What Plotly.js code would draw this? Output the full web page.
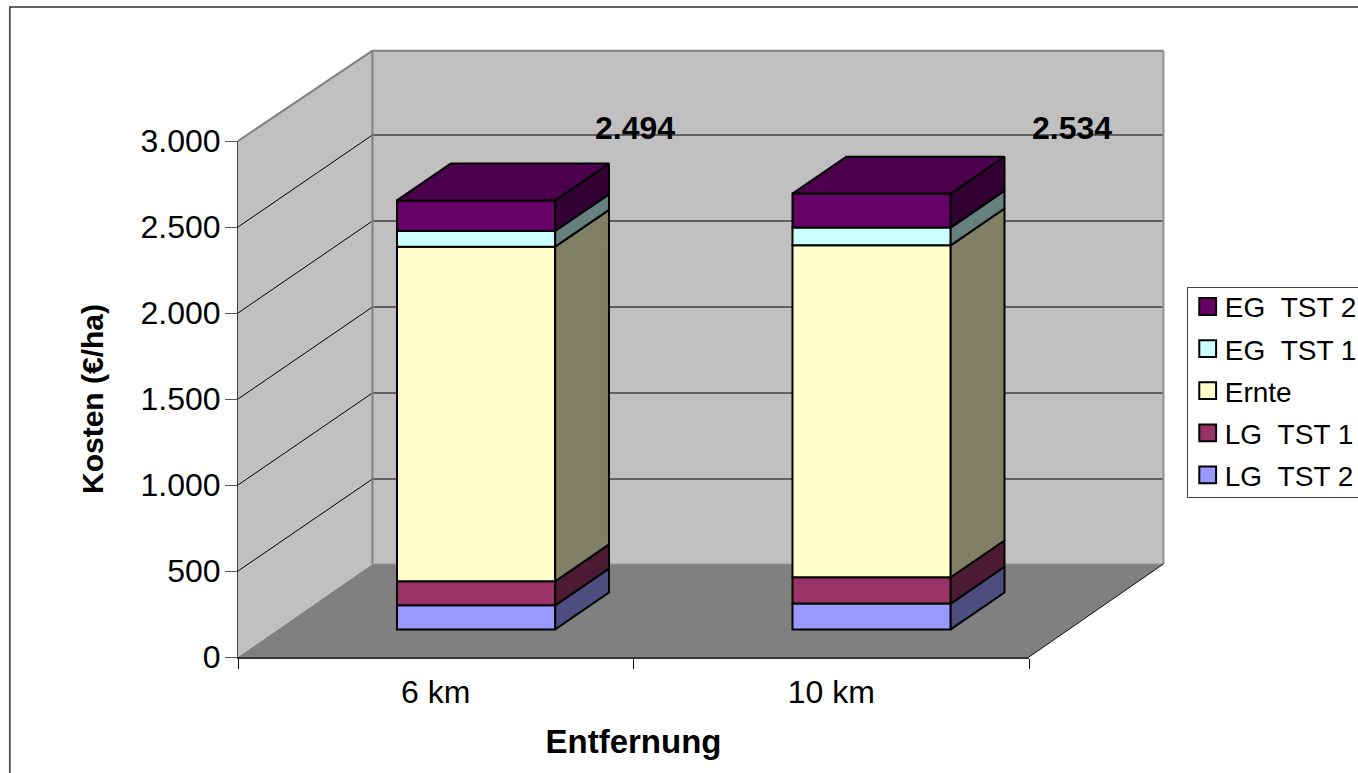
<!DOCTYPE html>
<html><head><meta charset="utf-8">
<script src="https://cdn.plot.ly/plotly-3.0.1.min.js"></script>
<style>html,body{margin:0;padding:0;background:#fff;overflow:hidden}#chart{width:1358px;height:773px}</style>
</head><body><div id="chart"></div>
<script>
// ---- data ----
const categories = ['6 km', '10 km'];
const seriesNames = ['LG\u00A0\u00A0TST 2', 'LG\u00A0\u00A0TST 1', 'Ernte', 'EG\u00A0\u00A0TST 1', 'EG\u00A0\u00A0TST 2'];
const lgTst2 = [140, 150];
const lgTst1 = [140, 153];
const ernte  = [1945, 1930];
const egTst1 = [91, 103];
const egTst2 = [178, 198];
const totals = [2494, 2534];
const yTicks = [0, 500, 1000, 1500, 2000, 2500, 3000];

// ---- styles ----
const frontColors = ['#9999FF', '#993366', '#FFFFCC', '#CCFFFF', '#660066'];
const sideColors  = ['#4D4D80', '#4D1A33', '#808066', '#668080', '#330033'];
const topColor = '#4D004D';
const FONT = 'Liberation Sans, Arial, sans-serif';

// ---- oblique projection, in axis units ----
const depthX = 0.34;      // whole floor depth, in category widths
const depthY = 535;       // whole floor depth, in value units
const floorDepthY = 541;
const barFront = 0.3, barBack = 0.7, barWidth = 0.4;
const xMax = 2, yMax = 3000, wallTop = yMax - 10;

const allSeries = [lgTst2, lgTst1, ernte, egTst1, egTst2];
const px = x => x / xMax;   // axis value -> paper fraction
const py = y => y / yMax;
const path = pts => 'M' + pts.map(p => px(p[0]) + ',' + py(p[1])).join('L') + 'Z';
const line = (a, b, color, width) => ({type: 'line', xref: 'paper', yref: 'paper', layer: 'below',
  x0: px(a[0]), y0: py(a[1]), x1: px(b[0]), y1: py(b[1]), line: {color, width}});
const poly = (pts, fill) => ({type: 'path', xref: 'paper', yref: 'paper', layer: 'below',
  path: path(pts), fillcolor: fill, line: {width: 0}});

// ---- walls, floor and gridlines ----
const shapes = [
  poly([[0, 0], [depthX, floorDepthY], [depthX, wallTop + depthY], [0, yMax]], '#C0C0C0'),
  poly([[depthX, floorDepthY], [xMax + depthX, floorDepthY], [xMax + depthX, wallTop + depthY], [depthX, wallTop + depthY]], '#C0C0C0'),
  poly([[0, 0], [xMax, 0], [xMax + depthX, floorDepthY], [depthX, floorDepthY]], '#808080')
];
yTicks.filter(v => v > 0 && v < yMax).forEach(v => {
  shapes.push(line([0, v], [depthX, v + depthY], '#000000', 1));
  shapes.push(line([depthX, v + depthY], [xMax + depthX, v + depthY], '#000000', 1.2));
});
shapes.push(line([depthX, floorDepthY], [depthX, wallTop + depthY], '#808080', 2));
shapes.push(line([depthX, wallTop + depthY], [xMax + depthX, wallTop + depthY], '#808080', 2));
shapes.push(line([0, yMax], [depthX, wallTop + depthY], '#808080', 2));
shapes.push(line([xMax + depthX, floorDepthY], [xMax + depthX, wallTop + depthY], '#909090', 2));
shapes.push(line([depthX, floorDepthY], [xMax + depthX, floorDepthY], '#999999', 1));
shapes.push(line([xMax, 0], [xMax + depthX, floorDepthY], '#111111', 1));
// outer chart frame, running off the page at right and bottom
shapes.push({type: 'rect', xref: 'paper', yref: 'paper', layer: 'below',
  x0: (9.7 - 238) / 791.5, x1: 1.8, y0: -1, y1: (656.7 - 7) / 515.7,
  line: {color: '#333333', width: 1.5}, fillcolor: 'rgba(0,0,0,0)'});

// ---- bars ----
const traces = [];
const cum = categories.map(() => 0);
allSeries.forEach((vals, s) => {
  const bases = vals.map((_, i) => cum[i]);
  const centres = categories.map((_, i) => i + 0.5 + barFront * depthX);
  const frontBase = bases.map(b => b + barFront * depthY);
  const rank = 100 * (allSeries.length - s);
  traces.push({type: 'bar', name: seriesNames[s], legendgroup: seriesNames[s], legendrank: rank,
    x: centres, y: vals, base: frontBase, width: barWidth, cliponaxis: false,
    marker: {color: frontColors[s], line: {color: '#000', width: 2}},
    customdata: categories, hovertemplate: '%{customdata}: %{y}<extra>' + seriesNames[s] + '</extra>'});
  const sx = [], sy = [];
  categories.forEach((_, i) => {
    const x1 = i + 0.5 + barFront * depthX + barWidth / 2;
    const x2 = x1 + (barBack - barFront) * depthX;
    const lo = bases[i], hi = bases[i] + vals[i];
    const y1 = barFront * depthY, y2 = barBack * depthY;
    sx.push(x1, x2, x2, x1, x1, null);
    sy.push(lo + y1, lo + y2, hi + y2, hi + y1, lo + y1, null);
  });
  traces.push({type: 'scatter', mode: 'lines', x: sx, y: sy, fill: 'toself', fillcolor: sideColors[s],
    line: {color: '#000', width: 2}, showlegend: false, legendgroup: seriesNames[s], legendrank: rank,
    hoverinfo: 'skip', cliponaxis: false});
  vals.forEach((v, i) => { cum[i] += v; });
});
// top faces
{
  const tx = [], ty = [];
  categories.forEach((_, i) => {
    const x0 = i + 0.5 + barFront * depthX - barWidth / 2;
    const x1 = x0 + barWidth;
    const d = (barBack - barFront) * depthX;
    const y1 = cum[i] + barFront * depthY, y2 = cum[i] + barBack * depthY;
    tx.push(x0, x1, x1 + d, x0 + d, x0, null);
    ty.push(y1, y1, y2, y2, y1, null);
  });
  traces.push({type: 'scatter', mode: 'lines', x: tx, y: ty, fill: 'toself', fillcolor: topColor,
    line: {color: '#000', width: 2}, showlegend: false, legendgroup: seriesNames[4], legendrank: 100,
    hoverinfo: 'skip', cliponaxis: false});
}

const fmt = n => String(n).replace(/\B(?=(\d{3})+$)/g, '.');
const labelPos = [[1.005, 3075], [2.108, 3075]];
const annotations = totals.map((t, i) => ({
  xref: 'paper', yref: 'paper', x: px(labelPos[i][0]), y: py(labelPos[i][1]),
  text: '<b>' + fmt(t) + '</b>', showarrow: false, xanchor: 'center', yanchor: 'middle',
  font: {family: FONT, size: 32, color: '#000'}
}));

const layout = {
  width: 1358, height: 773,
  margin: {l: 238, r: 328.5, t: 141, b: 116.3, autoexpand: false},
  paper_bgcolor: '#fff', plot_bgcolor: 'rgba(0,0,0,0)',
  barmode: 'overlay', separators: ',.',
  font: {family: FONT, color: '#000'},
  showlegend: true,
  legend: {x: (1187.3 - 238) / 791.5, y: (656.7 - 286.7) / 515.7, xanchor: 'left', yanchor: 'top',
    traceorder: 'grouped', bgcolor: '#fff', bordercolor: '#444', borderwidth: 1,
    font: {family: FONT, size: 28, color: '#000'}, tracegroupgap: 2.7, itemclick: false, itemdoubleclick: false},
  xaxis: {range: [0, xMax], tickmode: 'array', tickvals: [0.5, 1.5], ticktext: categories, ticks: '',
    showgrid: false, zeroline: false, showline: true, linecolor: '#333', linewidth: 2,
    tickfont: {family: FONT, size: 32, color: '#000'}, ticklabelstandoff: 6,
    minor: {tickmode: 'array', tickvals: [0, 1, 2], ticks: 'outside', ticklen: 10, tickcolor: '#111', tickwidth: 1, showgrid: false},
    title: {text: '<b>Entfernung</b>', font: {family: FONT, size: 33, color: '#000'}, standoff: 20}},
  yaxis: {range: [0, yMax], tickmode: 'array', tickvals: yTicks, tickformat: ',d', ticks: 'outside', ticklen: 12,
    tickcolor: '#555', tickwidth: 1, showgrid: false, zeroline: false, showline: true, linecolor: '#404040', linewidth: 1,
    tickfont: {family: FONT, size: 32, color: '#000'}, ticklabelstandoff: -2,
    title: {text: '<b>Kosten (€/ha)</b>', font: {family: FONT, size: 30, color: '#000'}, standoff: 28}},
  shapes, annotations
};

Plotly.newPlot('chart', traces, layout, {displayModeBar: false}).then(() => {
  const root = document.querySelector('#chart .legend');
  root.querySelectorAll('.legendbar path, .legendpoints path').forEach(p => {
    const t = p.getAttribute('transform') || '';
    p.setAttribute('transform', t + ' scale(1.4)');
    p.style.vectorEffect = 'non-scaling-stroke';
  });
  root.querySelectorAll('text.legendtext').forEach(t => {
    t.setAttribute('x', parseFloat(t.getAttribute('x')) - 3);
  });
  const bg = root.querySelector('rect.bg');
  bg.setAttribute('height', 210);
  const box = root.querySelector('.scrollbox');
  box.setAttribute('transform', 'translate(0,-6)');
});
</script></body></html>
